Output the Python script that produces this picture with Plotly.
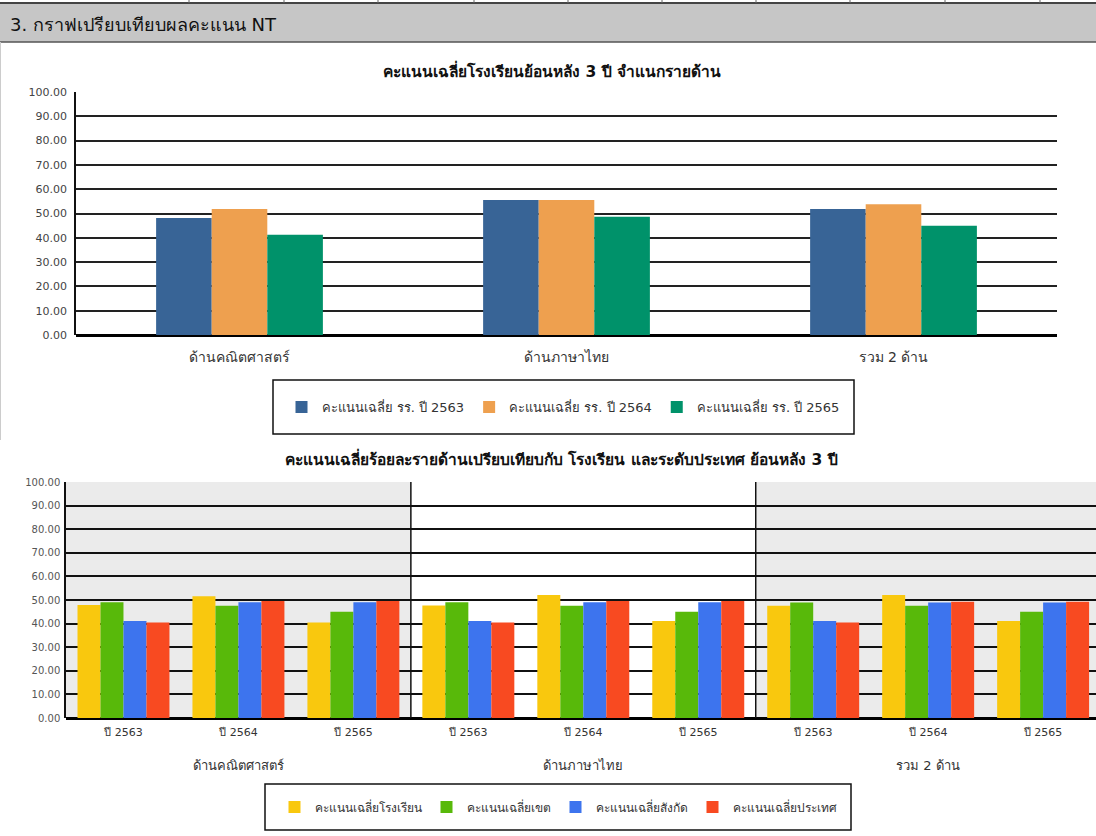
import plotly.graph_objects as go

W, H = 1096, 836

# ---------------- data ----------------
subjects = ["ด้านคณิตศาสตร์", "ด้านภาษาไทย", "รวม 2 ด้าน"]
top_series = ["คะแนนเฉลี่ย รร. ปี 2563", "คะแนนเฉลี่ย รร. ปี 2564", "คะแนนเฉลี่ย รร. ปี 2565"]
school_2563 = [48.1, 55.6, 51.9]
school_2564 = [51.9, 55.6, 53.8]
school_2565 = [41.3, 48.7, 45.0]

years = ["ปี 2563", "ปี 2564", "ปี 2565"]
bottom_series = ["คะแนนเฉลี่ยโรงเรียน", "คะแนนเฉลี่ยเขต", "คะแนนเฉลี่ยสังกัด", "คะแนนเฉลี่ยประเทศ"]
school_avg = [47.9, 51.6, 40.5, 47.7, 52.1, 41.1, 47.6, 52.1, 41.1]
area_avg = [49.0, 47.6, 45.0, 49.0, 47.6, 45.0, 48.9, 47.6, 45.0]
affil_avg = [41.1, 49.0, 49.0, 41.1, 49.0, 49.0, 41.1, 48.9, 48.9]
nation_avg = [40.5, 49.6, 49.6, 40.5, 49.6, 49.6, 40.5, 49.3, 49.3]

y_ticks = [0, 10, 20, 30, 40, 50, 60, 70, 80, 90, 100]

top_colors = ["#386496", "#eea04f", "#00926a"]
bottom_colors = ["#f9c80e", "#58b90a", "#3d74ee", "#f84a21"]

FONT = "Tahoma, 'DejaVu Sans', 'Noto Sans', sans-serif"

def px(x):
    return x / W

def py(y):
    return 1 - y / H

fig = go.Figure()

# top chart
n_top = len(top_series)
bar_w = 0.17
for i, (name, vals, col) in enumerate(zip(top_series, [school_2563, school_2564, school_2565], top_colors)):
    fig.add_trace(go.Bar(x=subjects, y=vals, name=name, marker=dict(color=col, line=dict(width=0)),
                         width=bar_w, offset=-bar_w * n_top / 2 + i * bar_w,
                         xaxis="x", yaxis="y", legend="legend"))

# bottom chart
n_pos = len(subjects) * len(years)
xpos = list(range(n_pos))
for name, vals, col in zip(bottom_series, [school_avg, area_avg, affil_avg, nation_avg], bottom_colors):
    fig.add_trace(go.Bar(x=xpos, y=vals, name=name, marker=dict(color=col, line=dict(width=0)),
                         xaxis="x2", yaxis="y2", legend="legend2"))

shapes = []
# header band
shapes.append(dict(type="rect", xref="paper", yref="paper", x0=0, x1=1, y0=py(42), y1=py(3),
                   fillcolor="#c6c6c6", line=dict(width=0), layer="below"))
shapes.append(dict(type="line", xref="paper", yref="paper", x0=0, x1=1, y0=py(3), y1=py(3),
                   line=dict(color="#444", width=2)))
shapes.append(dict(type="line", xref="paper", yref="paper", x0=0, x1=1, y0=py(42), y1=py(42),
                   line=dict(color="#555", width=1.5)))
# table cell borders above header
for xv in [189, 284, 378, 474, 568, 662, 756, 850, 945, 1040]:
    shapes.append(dict(type="line", xref="paper", yref="paper", x0=px(xv), x1=px(xv), y0=py(3), y1=1,
                       line=dict(color="#666", width=1)))
# left page border
shapes.append(dict(type="line", xref="paper", yref="paper", x0=px(0.5), x1=px(0.5), y0=py(440), y1=py(42),
                   line=dict(color="#ccc", width=1)))

# bottom panel backgrounds
for p in range(len(subjects)):
    if p % 2 == 0:
        shapes.append(dict(type="rect", xref="x2", yref="y2", x0=p * 3 - 0.5, x1=p * 3 + 2.5, y0=0, y1=100,
                           fillcolor="#ebebeb", line=dict(width=0), layer="below"))
for p in range(1, len(subjects)):
    shapes.append(dict(type="line", xref="x2", yref="y2", x0=p * 3 - 0.5, x1=p * 3 - 0.5, y0=0, y1=100,
                       line=dict(color="#111", width=1.5), layer="between"))

# legend boxes
shapes.append(dict(type="rect", xref="paper", yref="paper", x0=px(273), x1=px(854), y0=py(434), y1=py(380),
                   line=dict(color="#111", width=1.5), fillcolor="rgba(0,0,0,0)"))
shapes.append(dict(type="rect", xref="paper", yref="paper", x0=px(265), x1=px(851), y0=py(830), y1=py(784),
                   line=dict(color="#111", width=1.5), fillcolor="rgba(0,0,0,0)"))

annotations = [
    dict(text="3. กราฟเปรียบเทียบผลคะแนน NT", xref="paper", yref="paper", x=px(8), y=py(24),
         xanchor="left", yanchor="middle", showarrow=False, font=dict(size=18, color="#111", family=FONT)),
    dict(text="<b>คะแนนเฉลี่ยโรงเรียนย้อนหลัง 3 ปี จำแนกรายด้าน</b>", xref="paper", yref="paper",
         x=px(552), y=py(71), xanchor="center", yanchor="middle", showarrow=False,
         font=dict(size=15.5, color="#111", family=FONT)),
    dict(text="<b>คะแนนเฉลี่ยร้อยละรายด้านเปรียบเทียบกับ โรงเรียน และระดับประเทศ ย้อนหลัง 3 ปี</b>",
         xref="paper", yref="paper", x=px(561), y=py(459), xanchor="center", yanchor="middle",
         showarrow=False, font=dict(size=15.5, color="#111", family=FONT)),
]
for p, s in enumerate(subjects):
    annotations.append(dict(text=s, xref="x2", yref="paper", x=p * 3 + 1, y=py(765), xanchor="center",
                            yanchor="middle", showarrow=False, font=dict(size=13, color="#333", family=FONT)))

fig.update_layout(
    width=W, height=H,
    autosize=False,
    margin=dict(l=0, r=0, t=0, b=0, pad=0, autoexpand=False),
    paper_bgcolor="white", plot_bgcolor="rgba(0,0,0,0)",
    font=dict(family=FONT, color="#333"),
    barmode="group",
    bargap=0.2, bargroupgap=0,
    showlegend=True,
    xaxis=dict(domain=[px(76), px(1057)], anchor="y", type="category", showgrid=False, automargin=False,
               showline=False, ticks="", tickfont=dict(size=14, color="#333"), ticklabelstandoff=12),
    yaxis=dict(domain=[py(335), py(92)], anchor="x", range=[0, 100], tickvals=y_ticks, automargin=False,
               ticktext=[f"{v:.2f}" for v in y_ticks], showgrid=True, gridcolor="#222", gridwidth=1.5,
               showline=True, linecolor="#111", linewidth=1.5, zeroline=True, zerolinecolor="#000",
               zerolinewidth=2.5, ticks="", tickfont=dict(size=11, color="#444"), ticklabelstandoff=5),
    xaxis2=dict(domain=[px(66), 1], anchor="y2", range=[-0.5, 8.46], tickvals=xpos, automargin=False,
                ticktext=years * len(subjects), showgrid=False, showline=False, zeroline=False,
                ticks="", tickfont=dict(size=11, color="#333"), ticklabelstandoff=6),
    yaxis2=dict(domain=[py(718), py(482)], anchor="x2", range=[0, 100], tickvals=y_ticks, automargin=False,
                ticktext=[f"{v:.2f}" for v in y_ticks], showgrid=True, gridcolor="#111", gridwidth=1.5,
                showline=True, linecolor="#111", linewidth=1.5, zeroline=True, zerolinecolor="#000",
                zerolinewidth=2.5, ticks="", tickfont=dict(size=10, color="#555"), ticklabelstandoff=2),
    legend=dict(orientation="h", x=px(563), y=py(407), xanchor="center", yanchor="middle",
                font=dict(size=13, color="#333"), bgcolor="rgba(0,0,0,0)", borderwidth=0,
                itemwidth=30, traceorder="normal"),
    legend2=dict(orientation="h", x=px(558), y=py(807), xanchor="center", yanchor="middle",
                 font=dict(size=12, color="#333"), bgcolor="rgba(0,0,0,0)", borderwidth=0,
                 itemwidth=30, traceorder="normal"),
    shapes=shapes,
    annotations=annotations,
)

fig.write_html(
    "out.html",
    config={"displayModeBar": False},
    post_script="document.body.style.margin='0';document.body.style.overflow='hidden';",
)
